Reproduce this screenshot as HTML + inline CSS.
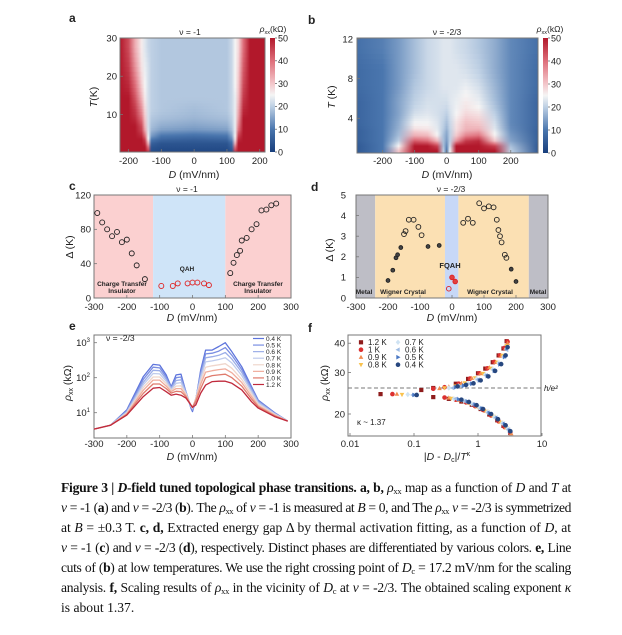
<!DOCTYPE html>
<html><head><meta charset="utf-8">
<style>
html,body{margin:0;padding:0;background:#fff;}
body{width:622px;height:635px;position:relative;overflow:hidden;font-family:"Liberation Sans",sans-serif;}
svg{position:absolute;left:0;top:0;}
svg text{font-family:"Liberation Sans",sans-serif;fill:#222;}
.cap{position:absolute;left:61px;top:478px;width:510px;font-family:"Liberation Serif",serif;font-size:13.6px;line-height:20px;color:#111;}
.cap div{text-align:justify;text-align-last:justify;white-space:nowrap;}
.cap div.last{text-align-last:left;}
.cap sub{font-size:8.5px;vertical-align:-2px;line-height:0;}
</style></head>
<body>
<svg id="fig" width="622" height="635" viewBox="0 0 622 635">
<defs id="defs"></defs>
<g id="gA"></g>
<g id="gB"></g>
<g id="gC"></g>
<g id="gD"></g>
<g id="gE"></g>
<g id="gF"></g>
<g id="labels">
<text x="69" y="22" font-size="12" font-weight="bold">a</text>
<text x="308" y="24" font-size="12" font-weight="bold">b</text>
<text x="69" y="190" font-size="12" font-weight="bold">c</text>
<text x="311" y="191" font-size="12" font-weight="bold">d</text>
<text x="69" y="330" font-size="12" font-weight="bold">e</text>
<text x="308" y="332" font-size="12" font-weight="bold">f</text>
<text x="190" y="35" font-size="8.5" text-anchor="middle">ν = -1</text>
<text x="447" y="35" font-size="8.5" text-anchor="middle">ν = -2/3</text>
<text x="187" y="192" font-size="8.5" text-anchor="middle">ν = -1</text>
<text x="451" y="192" font-size="8.5" text-anchor="middle">ν = -2/3</text>
<text x="273" y="32" font-size="8.5" text-anchor="middle"><tspan font-style="italic">ρ</tspan><tspan font-size="5.5" dy="2">xx</tspan><tspan dy="-2">(kΩ)</tspan></text>
<text x="550" y="32" font-size="8.5" text-anchor="middle"><tspan font-style="italic">ρ</tspan><tspan font-size="5.5" dy="2">xx</tspan><tspan dy="-2">(kΩ)</tspan></text>
<text transform="translate(97,97) rotate(-90)" font-size="10.5" text-anchor="middle"><tspan font-style="italic">T</tspan>(K)</text>
<text transform="translate(335,97) rotate(-90)" font-size="10.5" text-anchor="middle"><tspan font-style="italic">T</tspan> (K)</text>
<text transform="translate(73,247) rotate(-90)" font-size="10.5" text-anchor="middle">Δ (K)</text>
<text transform="translate(333,250) rotate(-90)" font-size="10.5" text-anchor="middle">Δ (K)</text>
<text transform="translate(71,383) rotate(-90)" font-size="10.5" text-anchor="middle"><tspan font-style="italic">ρ</tspan><tspan font-size="7" dy="2">xx</tspan><tspan dy="-2"> (kΩ)</tspan></text>
<text transform="translate(328,383) rotate(-90)" font-size="10.5" text-anchor="middle"><tspan font-style="italic">ρ</tspan><tspan font-size="7" dy="2">xx</tspan><tspan dy="-2"> (kΩ)</tspan></text>
<text x="194" y="178" font-size="10.5" text-anchor="middle"><tspan font-style="italic">D</tspan> (mV/nm)</text>
<text x="447" y="178" font-size="10.5" text-anchor="middle"><tspan font-style="italic">D</tspan> (mV/nm)</text>
<text x="192" y="321" font-size="10.5" text-anchor="middle"><tspan font-style="italic">D</tspan> (mV/nm)</text>
<text x="452" y="321" font-size="10.5" text-anchor="middle"><tspan font-style="italic">D</tspan> (mV/nm)</text>
<text x="192" y="460" font-size="10.5" text-anchor="middle"><tspan font-style="italic">D</tspan> (mV/nm)</text>
<text x="447" y="460" font-size="10.5" text-anchor="middle">|<tspan font-style="italic">D</tspan> - <tspan font-style="italic">D</tspan><tspan font-size="7" dy="2">c</tspan><tspan dy="-2">|/</tspan><tspan font-style="italic">T</tspan><tspan font-size="7" dy="-4">κ</tspan></text>
<g font-size="6.5" font-weight="bold" text-anchor="middle">
<text x="122" y="286">Charge Transfer</text>
<text x="122" y="293">Insulator</text>
<text x="187" y="271">QAH</text>
<text x="258" y="286">Charge Transfer</text>
<text x="258" y="293">Insulator</text>
</g>
<g font-size="6.5" font-weight="bold" text-anchor="middle">
<text x="364" y="294">Metal</text>
<text x="403" y="294">Wigner Crystal</text>
<text x="450" y="268" font-size="7.5">FQAH</text>
<text x="490" y="294">Wigner Crystal</text>
<text x="538" y="294">Metal</text>
</g>
<text x="106" y="341" font-size="8.5">ν = -2/3</text>
<text x="357" y="425" font-size="8">κ ~ 1.37</text>
<text x="544" y="391" font-size="8" font-style="italic" fill="#555">h/e²</text>
</g>
</svg>
<div class="cap">
<div><b>Figure 3 | <i>D</i>-field tuned topological phase transitions. a, b,</b> <i>ρ</i><sub>xx</sub> map as a function of <i>D</i> and <i>T</i> at</div>
<div><i>ν</i> = -1 (<b>a</b>) and <i>ν</i> = -2/3 (<b>b</b>). The <i>ρ</i><sub>xx</sub> of <i>ν</i> = -1 is measured at <i>B</i> = 0, and The <i>ρ</i><sub>xx</sub> <i>ν</i> = -2/3 is symmetrized</div>
<div>at <i>B</i> = ±0.3 T. <b>c, d,</b> Extracted energy gap Δ by thermal activation fitting, as a function of <i>D</i>, at</div>
<div><i>ν</i> = -1 (<b>c</b>) and <i>ν</i> = -2/3 (<b>d</b>), respectively. Distinct phases are differentiated by various colors. <b>e,</b> Line</div>
<div>cuts of (<b>b</b>) at low temperatures. We use the right crossing point of <i>D</i><sub>c</sub> = 17.2 mV/nm for the scaling</div>
<div>analysis. <b>f,</b> Scaling results of <i>ρ</i><sub>xx</sub> in the vicinity of <i>D</i><sub>c</sub> at <i>ν</i> = -2/3. The obtained scaling exponent <i>κ</i></div>
<div class="last">is about 1.37.</div>
</div>
<script>
// ---------- Panel a data ----------
const aD = [-226,-200,-180,-160,-150,-140,-130,-100,0,100,115,125,135,150,170,216];
const aT = [0.2,1,2,3,4,5,6,8,10,13,16,20,25,30];
const aRho = [
[50,50,50,50,50,45,3,2,2,2,4,45,50,50,50,50],
[50,50,50,50,50,40,4,3,3,3,6,40,50,50,50,50],
[50,50,50,50,48,32,6,4,4,4,8,32,50,50,50,50],
[50,50,50,50,45,26,10,7,6,7,12,27,48,50,50,50],
[50,50,50,48,40,24,14,10,9,10,15,25,45,50,50,50],
[50,50,50,46,36,23,16,13,12,13,17,24,42,50,50,50],
[50,50,50,44,32,22,18,16,15,16,19,24,38,50,50,50],
[50,50,48,40,30,22,19,18,17,18,20,24,35,50,50,50],
[50,50,46,36,28,22,20,19,18,19,21,24,33,48,50,50],
[50,50,43,32,26,22,20,19,19,19,21,24,31,46,50,50],
[50,48,40,29,25,22,20,19,19,19,21,25,30,44,50,50],
[50,46,36,27,24,22,20,19,19,19,21,25,29,42,50,50],
[50,44,33,26,23,21,20,19,19,19,21,25,28,40,50,50]];
const aXTicks = [-200,-100,0,100,200];
const aYTicks = [10,20,30];
// ---------- Panel b data ----------
const bD = [-280,-200,-150,-100,-60,-30,-10,0,10,30,60,100,150,200,285];
const bT = [0.5,1,1.5,2,2.5,3,4,5,6.5,8,10,12.1];
const bRho = [
[5,10,30,50,50,50,20,10,25,50,50,50,50,20,5],
[5,10,25,50,50,45,18,12,22,50,50,50,45,18,5],
[6,10,20,42,40,32,18,14,20,36,46,48,30,15,6],
[6,10,18,33,32,26,18,15,20,30,38,40,26,14,6],
[6,10,17,29,28,24,19,16,20,28,33,34,24,13,6],
[7,10,16,25,25,23,20,18,21,27,31,30,22,12,7],
[7,10,15,22,23,22,21,20,22,25,28,27,20,12,7],
[7,10,15,20,22,22,22,22,23,24,26,24,18,12,7],
[8,10,14,19,21,22,23,23,23,23,24,22,17,12,8],
[8,10,14,18,21,22,23,23,23,23,22,20,16,12,8],
[9,11,14,18,21,22,23,23,23,22,21,19,16,12,9]];
const bXTicks = [-200,-100,0,100,200];
const bYTicks = [4,8,12];
const cbTicks = [0,10,20,30,40,50];
// ---------- Panel c data ----------
const cBlackD = [-290,-275,-260,-245,-230,-215,-200,-185,-170,-145,115,125,135,145,150,165,180,195,210,225,240,255];
const cBlackGap = [99,88,80,72,77,65,68,52,38,22,29,41,50,55,67,70,80,86,102,103,108,110];
const cRedD = [-95,-60,-45,-15,0,15,35,50];
const cRedGap = [14,14,17,17,18,18,17,15];
const cRegions = [[-300,-120,'#fbd0d0'],[-120,100,'#cfe4f8'],[100,300,'#fbd0d0']];
const cXTicks = [-300,-200,-100,0,100,200,300];
const cYTicks = [0,40,80,120];
// ---------- Panel d data ----------
const dBlackD = [-200,-185,-175,-170,-160,-150,-145,-135,-120,-105,-95,-75,-40,35,50,65,85,100,115,130,140,145,150,155,165,170,185,200];
const dBlackGap = [0.85,1.35,1.95,2.1,2.45,3.1,3.25,3.8,3.8,3.45,3.05,2.5,2.55,3.65,3.85,3.65,4.6,4.35,4.45,4.4,3.8,3.3,3.0,2.7,2.1,1.95,1.4,0.8];
const dBlackFilled = [1,1,1,1,1,0,0,0,0,0,0,1,1,0,0,0,0,0,0,0,0,0,0,0,0,0,1,1];
const dRedD = [-10,0,10];
const dRedGap = [0.45,1.0,0.8];
const dRegions = [[-300,-240,'#bebec6'],[-240,-22,'#fbe0b3'],[-22,20,'#c7d8f7'],[20,240,'#fbe0b3'],[240,300,'#bebec6']];
const dXTicks = [-300,-200,-100,0,100,200,300];
const dYTicks = [0,1,2,3,4,5];
// ---------- Panel e data ----------
const eTemps = ['0.4 K','0.5 K','0.6 K','0.7 K','0.8 K','0.9 K','1.0 K','1.2 K'];
const eColors = ['#5d74dc','#7a8ee2','#9caee8','#bfcbec','#efd6cc','#f0ac9c','#df7a6c','#c02a3c'];
const eD = [-300,-250,-200,-150,-120,-100,-80,-65,-50,-35,-20,-5,0,10,25,40,60,80,100,120,150,180,200,250,290];
const eLog04 = [0.53,0.64,1.08,2.03,2.38,2.36,2.08,1.74,2.08,2.10,1.60,1.13,1.03,1.36,2.22,2.79,2.79,2.89,3.00,2.74,2.31,1.74,1.36,1.00,0.76];
const eLog05 = [0.53,0.64,1.05,1.95,2.30,2.28,2.02,1.72,2.00,2.02,1.60,1.16,1.07,1.38,2.15,2.68,2.70,2.76,2.86,2.64,2.23,1.70,1.34,0.99,0.76];
const eLog06 = [0.53,0.64,1.03,1.87,2.21,2.20,1.96,1.70,1.92,1.94,1.58,1.18,1.10,1.40,2.07,2.57,2.60,2.64,2.72,2.53,2.15,1.65,1.31,0.98,0.76];
const eLog07 = [0.53,0.64,1.01,1.80,2.12,2.11,1.90,1.67,1.84,1.86,1.56,1.19,1.12,1.41,2.00,2.45,2.48,2.52,2.57,2.42,2.06,1.60,1.28,0.97,0.76];
const eLog08 = [0.53,0.64,0.99,1.72,2.02,2.02,1.83,1.63,1.76,1.77,1.53,1.20,1.13,1.40,1.90,2.30,2.34,2.37,2.40,2.27,1.95,1.53,1.24,0.95,0.76];
const eLog09 = [0.53,0.64,0.97,1.64,1.93,1.93,1.76,1.60,1.69,1.69,1.50,1.21,1.15,1.38,1.81,2.16,2.20,2.23,2.25,2.14,1.86,1.46,1.20,0.93,0.76];
const eLog10 = [0.53,0.64,0.95,1.55,1.82,1.82,1.69,1.56,1.61,1.60,1.46,1.22,1.16,1.32,1.69,2.00,2.06,2.08,2.10,2.00,1.76,1.39,1.17,0.91,0.76];
const eLog12 = [0.53,0.64,0.93,1.46,1.70,1.72,1.60,1.50,1.53,1.50,1.42,1.22,1.15,1.22,1.56,1.79,1.89,1.90,1.90,1.84,1.65,1.31,1.13,0.89,0.76];
const eXTicks = [-300,-200,-100,0,100,200,300];
const eYTickExp = [1,2,3];
// ---------- Panel f data ----------
const fTemps = ['1.2 K','1 K','0.9 K','0.8 K','0.7 K','0.6 K','0.5 K','0.4 K'];
const fColors = ['#8e1c1c','#dc3030','#f28a4e','#f9c24e','#cfe3f3','#9dbbe3','#4a78c4','#27477f'];
const fShapes = ['square','circle','tri-up','tri-down','diamond','tri-left','tri-right','circle'];
const fUpX = [
[0.13,0.2,0.45,0.7,1.0,1.3,1.7,2.1,2.5,2.8],
[0.2,0.3,0.5,0.75,1.05,1.4,1.8,2.2,2.6,2.9],
[0.25,0.35,0.55,0.8,1.1,1.5,1.9,2.3,2.7,2.9],
[0.3,0.45,0.62,0.9,1.2,1.6,2.0,2.4,2.8],
[0.35,0.5,0.7,0.95,1.3,1.7,2.1,2.5,2.8],
[0.4,0.55,0.75,1.0,1.35,1.75,2.2,2.6,2.8],
[0.45,0.6,0.8,1.05,1.4,1.8,2.2,2.6,2.85],
[0.48,0.65,0.85,1.1,1.45,1.85,2.3,2.7,2.9]];
const fUpY = [
[25.3,25.8,26.9,28.2,29.8,31.2,33.2,35.5,38,40.8],
[25.6,26.0,26.9,28.3,29.8,31.3,33.3,35.5,38.2,40.6],
[25.7,26.1,27.0,28.4,29.7,31.5,33.2,35.3,38,40],
[25.8,26.3,27.1,28.5,29.7,31.3,33.2,35.5,39],
[25.8,26.3,27.0,28.2,29.4,31.0,33.0,35,38],
[25.8,26.3,26.9,28.0,29.2,30.8,32.5,35,37.5],
[26.0,26.4,26.9,27.8,29.0,30.5,32.5,35,38],
[26.2,26.6,27.0,27.8,28.9,30.5,32.6,35.5,38.5]];
const fLoX = [
[0.03,0.2,0.35,0.55,0.8,1.1,1.5,2.0,2.5,3.2],
[0.046,0.3,0.45,0.65,0.9,1.2,1.6,2.1,2.6,3.2],
[0.054,0.35,0.5,0.7,0.95,1.3,1.7,2.2,2.7,3.3],
[0.065,0.38,0.55,0.75,1.0,1.35,1.75,2.3,2.8],
[0.08,0.42,0.6,0.8,1.05,1.4,1.8,2.4,2.9],
[0.095,0.45,0.62,0.85,1.1,1.45,1.9,2.5,3.0],
[0.1,0.5,0.68,0.9,1.15,1.5,2.0,2.6,3.1],
[0.11,0.55,0.72,0.95,1.2,1.6,2.05,2.7,3.2]];
const fLoY = [
[24.3,23.6,23.2,22.6,21.9,21.0,19.9,18.8,17.8,16.6],
[24.3,23.5,23.0,22.4,21.6,20.8,19.7,18.6,17.6,16.7],
[24.3,23.4,22.9,22.3,21.5,20.6,19.6,18.5,17.5,16.5],
[24.2,23.3,22.9,22.2,21.4,20.5,19.5,18.4,17.4],
[24.2,23.2,22.8,22.1,21.3,20.4,19.4,18.3,17.3],
[24.1,23.2,22.7,22.0,21.2,20.3,19.3,18.2,17.2],
[24.1,23.1,22.6,21.9,21.1,20.2,19.2,18.1,17.0],
[24.1,23.0,22.5,21.8,21.0,20.0,19.0,17.9,16.9]];
const fHline = 25.8;
const fXTickLabels = ['0.01','0.1','1','10'];
const fXTicks = [0.01,0.1,1,10];
const fYTicks = [20,30,40];

const NS='http://www.w3.org/2000/svg';
function mk(tag,attrs,parent){const e=document.createElementNS(NS,tag);for(const k in attrs)e.setAttribute(k,attrs[k]);parent.appendChild(e);return e;}
function lin(d0,d1,r0,r1){return v=>r0+(v-d0)/(d1-d0)*(r1-r0);}
function logs(d0,d1,r0,r1){return v=>r0+(Math.log10(v)-Math.log10(d0))/(Math.log10(d1)-Math.log10(d0))*(r1-r0);}
const cmapStops=[[0,[24,62,124]],[10,[74,118,174]],[20,[190,208,228]],[25,[245,245,245]],[30,[243,198,202]],[40,[222,110,122]],[50,[178,24,43]]];
function cmap(v){v=Math.max(0,Math.min(50,v));for(let i=1;i<cmapStops.length;i++){if(v<=cmapStops[i][0]){const a=cmapStops[i-1],b=cmapStops[i];const t=(v-a[0])/(b[0]-a[0]);const c=a[1].map((x,j)=>Math.round(x+(b[1][j]-x)*t));return 'rgb('+c.join(',')+')';}}return 'rgb(178,24,43)';}
const defs=document.getElementById('defs');
let gid=0;

function heatmap(g,Ds,Ts,rho,xs,ys,x0,x1,prefix){
  const SUB=4;
  for(let r=0;r<rho.length;r++){
    const yTop=ys(Ts[r+1]),yBot=ys(Ts[r]);
    const nxt=rho[Math.min(r+1,rho.length-1)];
    for(let s=0;s<SUB;s++){
      const f=(s+0.5)/SUB-0.5;
      const other=f>=0?nxt:rho[Math.max(r-1,0)];
      const w=Math.abs(f);
      const id=prefix+'grad'+(gid++);
      const lg=mk('linearGradient',{id:id,gradientUnits:'userSpaceOnUse',x1:x0,y1:0,x2:x1,y2:0},defs);
      for(let j=0;j<Ds.length;j++){mk('stop',{offset:((xs(Ds[j])-x0)/(x1-x0)).toFixed(4),'stop-color':cmap(rho[r][j]*(1-w)+other[j]*w)},lg);}
      const h=(yBot-yTop)/SUB;
      const ya=yBot-(s+1)*h;
      const rc=mk('rect',{x:x0,y:ya-0.3,width:x1-x0,height:h+0.6,fill:'url(#'+id+')'},g);
      
      
    }
  }
}
function box(g,x0,y0,x1,y1,name){const b=mk('rect',{x:x0,y:y0,width:x1-x0,height:y1-y0,fill:'none',stroke:'#777','stroke-width':1},g);}
function xticks(g,vals,labels,xs,y0,y1,ly){vals.forEach((v,i)=>{const t=mk('line',{x1:xs(v),x2:xs(v),y1:y1,y2:y1-3,stroke:'#777','stroke-width':0.8},g);const l=mk('text',{x:xs(v),y:ly,'font-size':9.5,'text-anchor':'middle'},g);l.textContent=labels[i];});}
function yticks(g,vals,labels,ys,x0,lx){vals.forEach((v,i)=>{const t=mk('line',{x1:x0,x2:x0+3,y1:ys(v),y2:ys(v),stroke:'#777','stroke-width':0.8},g);const l=mk('text',{x:lx,y:ys(v)+3.3,'font-size':9.5,'text-anchor':'end'},g);l.textContent=labels[i];});}
function colorbar(g,x,y0,y1,name){
  const id='cb'+(gid++);
  const lg=mk('linearGradient',{id:id,x1:0,y1:1,x2:0,y2:0},defs);
  cmapStops.forEach(s=>mk('stop',{offset:s[0]/50,'stop-color':cmap(s[0])},lg));
  const r=mk('rect',{x:x,y:y0,width:5,height:y1-y0,fill:'url(#'+id+')'},g);
  
  
  const cs=lin(0,50,y1,y0);
  cbTicks.forEach(v=>{const t=mk('line',{x1:x+5,x2:x+7,y1:cs(v),y2:cs(v),stroke:'#555','stroke-width':0.7},g);const l=mk('text',{x:x+8,y:cs(v)+3.3,'font-size':9},g);l.textContent=v;});
}

// Panel a
(function(){const g=document.getElementById('gA');const x0=120,x1=265,y0=38,y1=152;
 const xs=lin(-226,216,x0,x1),ys=lin(0.2,30,y1,y0);
 heatmap(g,aD,aT,aRho,xs,ys,x0,x1,'a');box(g,x0,y0,x1,y1,'plot-frame-a');
 xticks(g,aXTicks,aXTicks.map(String),xs,y0,y1,164);yticks(g,aYTicks,aYTicks.map(String),ys,x0,117);
 colorbar(g,270,y0,y1,'colorbar-a');})();
// Panel b
(function(){const g=document.getElementById('gB');const x0=357,x1=538,y0=38,y1=153;
 const xs=lin(-280,285,x0,x1),ys=lin(0.5,12.1,y1,y0);
 heatmap(g,bD,bT,bRho,xs,ys,x0,x1,'b');box(g,x0,y0,x1,y1,'plot-frame-b');
 xticks(g,bXTicks,bXTicks.map(String),xs,y0,y1,164);yticks(g,bYTicks,bYTicks.map(String),ys,x0,353);
 colorbar(g,543,y0,y1,'colorbar-b');})();
// Panel c
(function(){const g=document.getElementById('gC');const x0=94,x1=291,y0=195,y1=298;
 const xs=lin(-300,300,x0,x1),ys=lin(0,120,y1,y0);
 cRegions.forEach(r=>{const e=mk('rect',{x:xs(r[0]),y:y0,width:xs(r[1])-xs(r[0]),height:y1-y0,fill:r[2]},g);});
 box(g,x0,y0,x1,y1,'plot-frame-c');
 xticks(g,cXTicks,cXTicks.map(String),xs,y0,y1,310);yticks(g,cYTicks,cYTicks.map(String),ys,x0,91);
 cBlackD.forEach((d,i)=>{const p=mk('circle',{cx:xs(d),cy:ys(cBlackGap[i]),r:2.5,fill:'none',stroke:'#222','stroke-width':0.9},g);});
 cRedD.forEach((d,i)=>{const p=mk('circle',{cx:xs(d),cy:ys(cRedGap[i]),r:2.5,fill:'none',stroke:'#e02020','stroke-width':0.9},g);});})();
// Panel d
(function(){const g=document.getElementById('gD');const x0=356,x1=548,y0=195,y1=298;
 const xs=lin(-300,300,x0,x1),ys=lin(0,5,y1,y0);
 dRegions.forEach(r=>{const e=mk('rect',{x:xs(r[0]),y:y0,width:xs(r[1])-xs(r[0]),height:y1-y0,fill:r[2]},g);});
 box(g,x0,y0,x1,y1,'plot-frame-d');
 xticks(g,dXTicks,dXTicks.map(String),xs,y0,y1,310);yticks(g,dYTicks,dYTicks.map(String),ys,x0,346);
 dBlackD.forEach((d,i)=>{const f=dBlackFilled[i];const p=mk('circle',{cx:xs(d),cy:ys(dBlackGap[i]),r:f?1.9:2.4,fill:f?'#444':'none',stroke:'#222','stroke-width':0.9},g);});
 dRedD.forEach((d,i)=>{const p=mk('circle',{cx:xs(d),cy:ys(dRedGap[i]),r:2.3,fill:i?'#e04040':'none',stroke:'#e02020','stroke-width':0.9},g);});})();
// Panel e
(function(){const g=document.getElementById('gE');const x0=94,x1=291,y0=335,y1=438;
 const xs=lin(-300,300,x0,x1),ys=lin(1,3,412.7,342.7);
 box(g,x0,y0,x1,y1,'plot-frame-e');
 xticks(g,eXTicks,eXTicks.map(String),xs,y0,y1,447);
 eYTickExp.forEach(p=>{const t=mk('line',{x1:x0,x2:x0+3,y1:ys(p),y2:ys(p),stroke:'#777','stroke-width':0.8},g);
   const l=mk('text',{x:x0-4,y:ys(p)+3.5,'font-size':9.5,'text-anchor':'end'},g);
   const a=mk('tspan',{},l);a.textContent='10';const b=mk('tspan',{'font-size':6,dy:-4},l);b.textContent=String(p);});
 const series=[eLog04,eLog05,eLog06,eLog07,eLog08,eLog09,eLog10,eLog12];
 series.forEach((s,i)=>{const pts=eD.map((d,j)=>xs(d).toFixed(1)+','+ys(s[j]).toFixed(1)).join(' ');
   const pl=mk('polyline',{points:pts,fill:'none',stroke:eColors[i],'stroke-width':1.3,'stroke-linejoin':'round'},g);
   
   
   const ly=338.5+i*6.57;
   const ll=mk('line',{x1:253,x2:264,y1:ly,y2:ly,stroke:eColors[i],'stroke-width':1.2},g);
   
   
   const lt=mk('text',{x:266,y:ly+2.5,'font-size':6.5,fill:'#444'},g);lt.textContent=eTemps[i];
   
   });})();
// Panel f
function marker(g,shape,x,y,c,s){let e;
 if(shape==='square')e=mk('rect',{x:x-s,y:y-s,width:2*s,height:2*s,fill:c},g);
 else if(shape==='circle')e=mk('circle',{cx:x,cy:y,r:s*1.1,fill:c},g);
 else{const m={'tri-up':[[0,-1.2],[1.1,0.8],[-1.1,0.8]],'tri-down':[[0,1.2],[1.1,-0.8],[-1.1,-0.8]],'diamond':[[0,-1.3],[1.1,0],[0,1.3],[-1.1,0]],'tri-left':[[-1.2,0],[0.8,-1.1],[0.8,1.1]],'tri-right':[[1.2,0],[-0.8,-1.1],[-0.8,1.1]]}[shape];
  e=mk('polygon',{points:m.map(p=>(x+p[0]*s).toFixed(1)+','+(y+p[1]*s).toFixed(1)).join(' '),fill:c},g);}
 return e;}
(function(){const g=document.getElementById('gF');const x0=348,x1=541,y0=335,y1=436;
 const xs=logs(0.01,10,350,542),ys=logs(20,30,414,372.6);
 box(g,x0,y0,x1,y1,'plot-frame-f');
 xticks(g,fXTicks,fXTickLabels,xs,y0,y1,447);yticks(g,fYTicks,fYTicks.map(String),ys,x0,345);
 const hl=mk('line',{x1:x0,x2:543,y1:ys(fHline),y2:ys(fHline),stroke:'#777','stroke-width':0.9,'stroke-dasharray':'4,2.5'},g);
 
 
 for(let i=0;i<fTemps.length;i++){
   fUpX[i].forEach((v,j)=>{const m=marker(g,fShapes[i],xs(v),ys(fUpY[i][j]),fColors[i],2.1);});
   fLoX[i].forEach((v,j)=>{const m=marker(g,fShapes[i],xs(v),ys(fLoY[i][j]),fColors[i],2.1);});
 }
 const lx=[361,398],tx=[368,405],ly=[342.3,349.7,357.2,364.7];
 fTemps.forEach((t,i)=>{const col=i<4?0:1,row=i%4;
   const m=marker(g,fShapes[i],lx[col],ly[row],fColors[i],2.1);
   
   
   const l=mk('text',{x:tx[col],y:ly[row]+2.8,'font-size':8},g);l.textContent=t;
   
   });})();

// Fit caption lines into the column width
(function(){
  const lines=document.querySelectorAll('.cap div');
  lines.forEach(d=>{
    const probe=document.createElement('span');
    probe.innerHTML=d.innerHTML;
    probe.style.whiteSpace='nowrap';
    probe.style.visibility='hidden';
    probe.style.position='absolute';
    d.parentNode.appendChild(probe);
    let ls=0;
    while(probe.getBoundingClientRect().width>506 && ls>-1){ls-=0.05;probe.style.letterSpacing=ls+'px';}
    d.style.letterSpacing=ls+'px';
    probe.remove();
  });
})();
</script>
</body></html>
